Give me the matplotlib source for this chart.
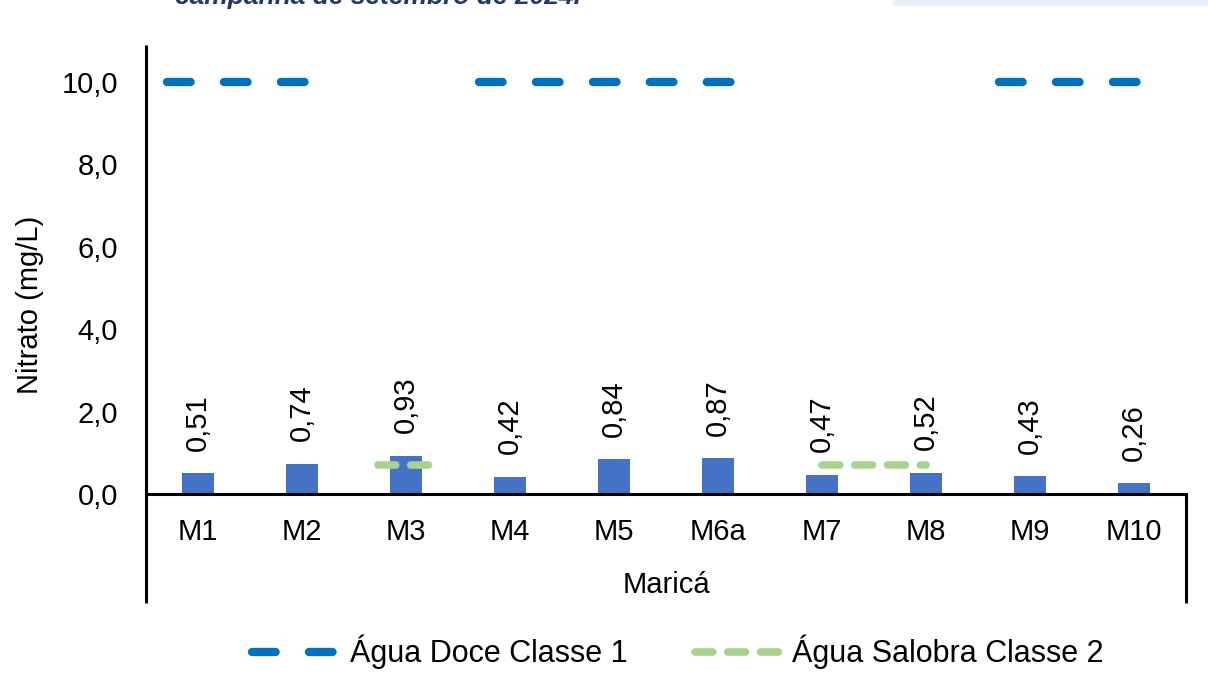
import numpy as np
import matplotlib
matplotlib.use('Agg')
import matplotlib.pyplot as plt
from matplotlib.patches import Rectangle
from matplotlib.lines import Line2D

plt.rcParams['font.family'] = ['Liberation Sans', 'DejaVu Sans']
plt.rcParams['lines.scale_dashes'] = False

# ---------------- data ----------------
stations = ['M1', 'M2', 'M3', 'M4', 'M5', 'M6a', 'M7', 'M8', 'M9', 'M10']
nitrato = [0.51, 0.74, 0.93, 0.42, 0.84, 0.87, 0.47, 0.52, 0.43, 0.26]
nan = np.nan
agua_doce_classe1 = [10.0, 10.0, nan, 10.0, 10.0, 10.0, nan, nan, 10.0, 10.0]
agua_salobra_classe2 = [nan, nan, 0.70, nan, nan, nan, 0.70, 0.70, nan, nan]
yticks = [0, 2, 4, 6, 8, 10]
ylabel = 'Nitrato (mg/L)'
xlabel = 'Maricá'
legend_labels = ['Água Doce Classe 1', 'Água Salobra Classe 2']
title_text = 'campanha de setembro de 2024.'

# ---------------- figure ----------------
W, H = 1208, 685
fig = plt.figure(figsize=(W / 100, H / 100), dpi=100)
fig.patch.set_facecolor('white')

ax = fig.add_axes([146 / W, 191 / H, 1040 / W, 449 / H])
x = np.arange(len(stations))

FS = 21
BAR_C = '#4472C4'
BLUE = '#0070C0'
GREEN = '#A9D18E'

ax.bar(x, nitrato, width=0.31, color=BAR_C, zorder=2)

for xi, v in zip(x, nitrato):
    ax.annotate(f'{v:.2f}'.replace('.', ','), (xi, v), xytext=(0, 16),
                textcoords='offset points', rotation=90, ha='center',
                va='bottom', fontsize=FS, color='black')


def runs(vals):
    out, cur = [], []
    for i, v in enumerate(vals):
        if np.isnan(v):
            if cur:
                out.append(cur)
                cur = []
        else:
            cur.append(i)
    if cur:
        out.append(cur)
    return out


def draw_limit(vals, color, lw, ls, pad, single_half):
    for r in runs(vals):
        v = vals[r[0]]
        if len(r) == 1:
            xs = [r[0] - single_half, r[0] + single_half]
        else:
            xs = [r[0] - pad, r[-1] + pad]
        ax.plot(xs, [v, v], color=color, lw=lw, zorder=3, linestyle=ls,
                solid_capstyle='round', dash_capstyle='round')


blue_dash = (0, (17, 24))
green_dash = (0, (12.8, 10.8))
draw_limit(agua_doce_classe1, BLUE, 6, blue_dash, 0.3, 0.27)
draw_limit(agua_salobra_classe2, GREEN, 5.5, green_dash, 0.0, 0.27)

ax.set_xlim(-0.5, len(stations) - 0.5)
ax.set_ylim(0, 10.9)
ax.set_yticks(yticks)
ax.set_yticklabels([f'{t:.1f}'.replace('.', ',') for t in yticks], fontsize=FS)
ax.set_xticks(x)
ax.set_xticklabels(stations, fontsize=FS)
ax.tick_params(axis='both', length=0)
ax.tick_params(axis='y', pad=20)
ax.tick_params(axis='x', pad=17)

for s in ['top', 'right', 'left']:
    ax.spines[s].set_visible(False)
ax.spines['bottom'].set_linewidth(2.2)
ax.spines['bottom'].set_color('black')

ext = 109 / 449
ax.plot([0, 0], [-ext, 1], transform=ax.transAxes, color='black', lw=2.2,
        clip_on=False, solid_capstyle='butt')
ax.plot([1, 1], [-ext, 0], transform=ax.transAxes, color='black', lw=2.2,
        clip_on=False, solid_capstyle='butt')

fig.text(666 / W, 1 - 585 / H, xlabel, ha='center', va='center', fontsize=FS)
fig.text(30 / W, 1 - 305 / H, ylabel, ha='center', va='center',
         rotation=90, fontsize=FS)

# legend
h1 = Line2D([], [], color=BLUE, lw=6, dash_capstyle='round', linestyle=blue_dash)
h2 = Line2D([], [], color=GREEN, lw=5.5, dash_capstyle='round', linestyle=green_dash)
fig.legend([h1, h2], legend_labels, loc='center',
           bbox_to_anchor=(678 / W, 1 - 652 / H), ncol=2, frameon=False,
           fontsize=22, handlelength=2.9, handletextpad=0.3,
           columnspacing=2.2)

# cut-off heading and header band at top
fig.text(175 / W, 1 - 4 / H, title_text, ha='left', va='baseline',
         fontsize=19, fontweight='bold', fontstyle='italic', color='#203864')
fig.patches.append(Rectangle((893 / W, 1 - 6 / H), (W - 893) / W, 6 / H,
                             transform=fig.transFigure, facecolor='#E7F0F9',
                             edgecolor='none'))

fig.savefig('out.png', dpi=100)
